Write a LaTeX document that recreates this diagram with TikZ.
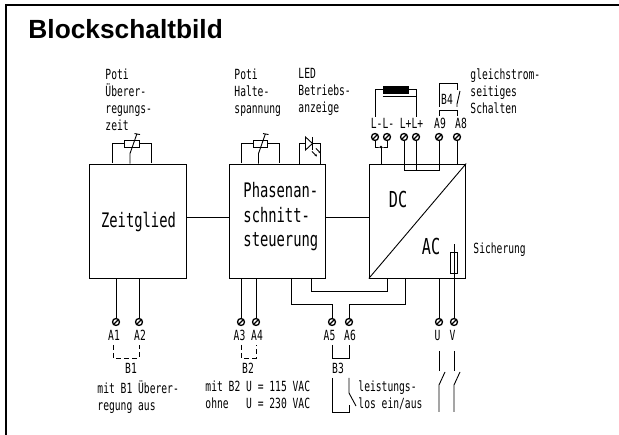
\documentclass[tikz,border=0pt]{standalone}
\usepackage{fontspec}
\setmainfont{Liberation Sans}
\newfontfamily\cadfont[FakeStretch=0.69]{DejaVu Sans Mono}
\usetikzlibrary{calc,positioning}
\usetikzlibrary{arrows.meta}
\newcommand{\cadsmall}{\cadfont\fontsize{14}{17}\selectfont}
\newcommand{\cadbig}{\cadfont\fontsize{20}{24.5}\selectfont}

\begin{document}
\begin{tikzpicture}%
  [x=1pt,y=-1pt,line width=0.9pt,node font=\cadsmall,
   block/.style={rectangle,draw,minimum width=96.5pt,minimum height=114pt,inner sep=0pt},
   term/.style={circle,draw,fill=white,line width=1.3pt,minimum size=7pt,inner sep=0pt,
     path picture={\draw[line width=1.3pt] (path picture bounding box.south west)
       -- (path picture bounding box.north east);}},
   lab/.style={anchor=base,inner sep=0pt},
   txt/.style={anchor=north west,align=left,inner sep=0pt}]

  \useasboundingbox (0,0) rectangle (619,435);

  \node (frameTL) at (6,5) [inner sep=0pt] {};
  \coordinate (frameTR) at (619,5);
  \coordinate (frameBL) at (6,435);
  \draw[line width=1.6pt] (frameBL) -- (frameTL.center) -- (frameTR);

  \node (title) at (28,39) [anchor=base west,inner sep=0pt,
        font=\rmfamily\bfseries\fontsize{26.3}{30}\selectfont] {Blockschaltbild};

  \node (Zeit) at (138,221) [block] {};
  \node (Phase) at (277.5,221) [block] {};
  \node (Conv) at (417.5,221) [block] {};

  \node (ZeitTxt) at (138.5,228) [lab,font=\cadbig] {Zeitglied};
  \node (PhaseTxt) at (243,182) [txt,font=\cadbig] {Phasenan-\\schnitt-\\steuerung};
  \node (DCTxt) at (398,208) [lab,font=\cadbig\fontsize{22}{24}\selectfont] {DC};
  \node (ACTxt) at (431,255) [lab,font=\cadbig\fontsize{22}{24}\selectfont] {AC};

  \draw ($(Zeit.east)+(0,-3.5)$) -- ($(Phase.west)+(0,-3.5)$);
  \draw ($(Phase.east)+(0,-3.5)$) -- ($(Conv.west)+(0,-3.5)$);
  \draw (Conv.south west) -- (Conv.north east);

  \node (txtPotiZ) at (105,68) [txt] {Poti\\Überer-\\regungs-\\zeit};
  \node (txtPotiH) at (234,68) [txt] {Poti\\Halte-\\spannung};
  \node (txtLED) at (298,68) [txt] {LED\\Betriebs-\\anzeige};
  \node (txtGleich) at (470,68) [txt] {gleichstrom-\\seitiges\\Schalten};
  \node (txtSich) at (473,242) [txt] {Sicherung};

  % Potis
  \node (PotiZ) at (132,143.5) [rectangle,draw,minimum width=14.5pt,minimum height=7pt,inner sep=0pt] {};
  \node (PotiH) at (260.5,143.5) [rectangle,draw,minimum width=14.5pt,minimum height=7pt,inner sep=0pt] {};
  \draw (PotiZ.west) -| ($(Zeit.north)+(-25.5,-0.5)$);
  \draw (PotiZ.east) -| ($(Zeit.north)+(13,-0.5)$);
  \draw ($(Zeit.north)+(-8,0)$) -- ++(0,-10) -- ++(7,-20) ++(-2.5,0) -- ++(5.5,1);
  \draw (PotiH.west) -| ($(Phase.north)+(-36.5,-0.5)$);
  \draw (PotiH.east) -| ($(Phase.north)+(1.5,-0.5)$);
  \draw ($(Phase.north)+(-19,0)$) -- ++(0,-10) -- ++(7,-20) ++(-2.5,0) -- ++(5.5,1);

  % LED
  \node (LED) at (309,143.5) [inner sep=0pt,minimum size=1pt] {};
  \draw ($(Phase.north)+(21.5,0)$) |- ($(LED)+(-3.5,0)$);
  \draw ($(Phase.north)+(42.5,0)$) |- ($(LED)+(3.5,0)$);
  \draw ($(LED)+(-3.5,-6.5)$) -- ($(LED)+(-3.5,6.5)$) -- ($(LED)+(3.5,0)$) -- cycle;
  \draw ($(LED)+(3.5,-6.5)$) -- ($(LED)+(3.5,6.5)$);
  \draw[-{Stealth[length=2.5pt,width=2.5pt]}] ($(LED)+(3,8)$) -- ++(5,5);
  \draw[-{Stealth[length=2.5pt,width=2.5pt]}] ($(LED)+(7,5)$) -- ++(5,5);

  % Anschluesse oben
  \node (Lm1) at (375,137) [term] {};
  \node (Lm2) at (387,137) [term] {};
  \node (Lp1) at (404,137) [term] {};
  \node (Lp2) at (416,137) [term] {};
  \node (A9) at (439,137) [term] {};
  \node (A8) at (457,137) [term] {};

  \node (txtLm) at (382.5,129) [lab] {L-L-};
  \node (txtLp) at (411.5,129) [lab] {L+L+};
  \node (txtA9) at (440,129) [lab] {A9};
  \node (txtA8) at (461,129) [lab] {A8};

  \coordinate (Lm) at (381,147);
  \draw (Lm1) |- (Lm) -| (Lm2);
  \draw (Lm) -- (Lm |- Conv.north);
  \fill (Lm) circle (1.3pt);
  \coordinate (LpDown) at (404,170);
  \draw (Lp1) -- (LpDown) -| (A9);
  \draw (Lp2) -- (Lp2 |- LpDown);
  \draw (A8) -- (A8 |- Conv.north);

  % Drossel
  \node (Coil) at (395.5,89.5) [rectangle,draw,fill=black,minimum width=25pt,minimum height=7pt,inner sep=0pt] {};
  \coordinate (CoilL) at (375,117);
  \coordinate (CoilR) at (416,117);
  \draw (Coil.west) -| (CoilL);
  \draw (Coil.east) -| (CoilR);
  \draw (Coil.south west) ++(0,3) -- ++(33,0);

  % B4
  \node (txtB4) at (447,105) [lab] {B4};
  \coordinate (B4a) at (439,107);
  \coordinate (B4b) at (457,90);
  \draw (B4a) |- (457,83) -- (B4b);
  \draw (460,91) -- (457,104) -- (457,107);
  \draw (439,116) |- (457,110) -- (457,116);

  % Sicherung
  \node (Fuse) at (454,262.5) [rectangle,draw,minimum width=6.5pt,minimum height=21pt,inner sep=0pt] {};
  \coordinate (FuseTop) at (454,244);

  % Anschluesse unten
  \node (A1) at (116,322) [term] {};
  \node (A2) at (139,322) [term] {};
  \node (A3) at (241,322) [term] {};
  \node (A4) at (256,322) [term] {};
  \node (A5) at (332,322) [term] {};
  \node (A6) at (349,322) [term] {};
  \node (U) at (439,322) [term] {};
  \node (V) at (454,322) [term] {};

  \node (txtA1) at (114,341) [lab] {A1};
  \node (txtA2) at (140,341) [lab] {A2};
  \node (txtA3) at (239.5,341) [lab] {A3};
  \node (txtA4) at (257,341) [lab] {A4};
  \node (txtA5) at (329.5,341) [lab] {A5};
  \node (txtA6) at (350,341) [lab] {A6};
  \node (txtU) at (437.5,341) [lab] {U};
  \node (txtV) at (452.5,341) [lab] {V};

  \draw (A1) -- (A1 |- Zeit.south);
  \draw (A2) -- (A2 |- Zeit.south);
  \draw (A3) -- (A3 |- Phase.south);
  \draw (A4) -- (A4 |- Phase.south);
  \draw (U) -- (U |- Conv.south);
  \draw (V) -- (FuseTop);

  \coordinate (ph1) at (291,278);
  \coordinate (ph2) at (311,278);
  \coordinate (co1) at (387,278);
  \coordinate (co2) at (405,278);
  \draw (ph1) |- (332,304) -- (A5);
  \draw (ph2) |- (387,291) -- (co1);
  \draw (co2) |- (349,304) -- (A6);

  % Bruecken
  \draw[dash pattern=on 5pt off 3pt] (113,345) |- (139,358) -- (139,345);
  \draw[dash pattern=on 5pt off 3pt] (241,345) |- (256,358) -- (256,345);
  \draw (332,345) |- (349,358) -- (349,345);

  \node (txtB1) at (131,374) [lab] {B1};
  \node (txtB2) at (248,374) [lab] {B2};
  \node (txtB3) at (338,374) [lab] {B3};

  \node (txtMit1) at (97,380) [txt] {mit B1 Überer-\\regung aus};
  \node (txtMit2) at (205,380) [txt] {mit B2 U = 115 VAC\\ohne\ \ \ U = 230 VAC};
  \node (txtLeist) at (358,380) [txt] {leistungs-\\los ein/aus};

  % Schalter
  \draw (332,378) -- (332,412) -- (349,412) -- (349,405);
  \draw (349,378) -- (349,393) -- (356,406);
  \draw (439,351) -- (439,371);
  \draw (445,372) -- (439,385) -- (439,412);
  \draw (454,351) -- (454,371);
  \draw (460,372) -- (454,385) -- (454,412);

\end{tikzpicture}
\end{document}
